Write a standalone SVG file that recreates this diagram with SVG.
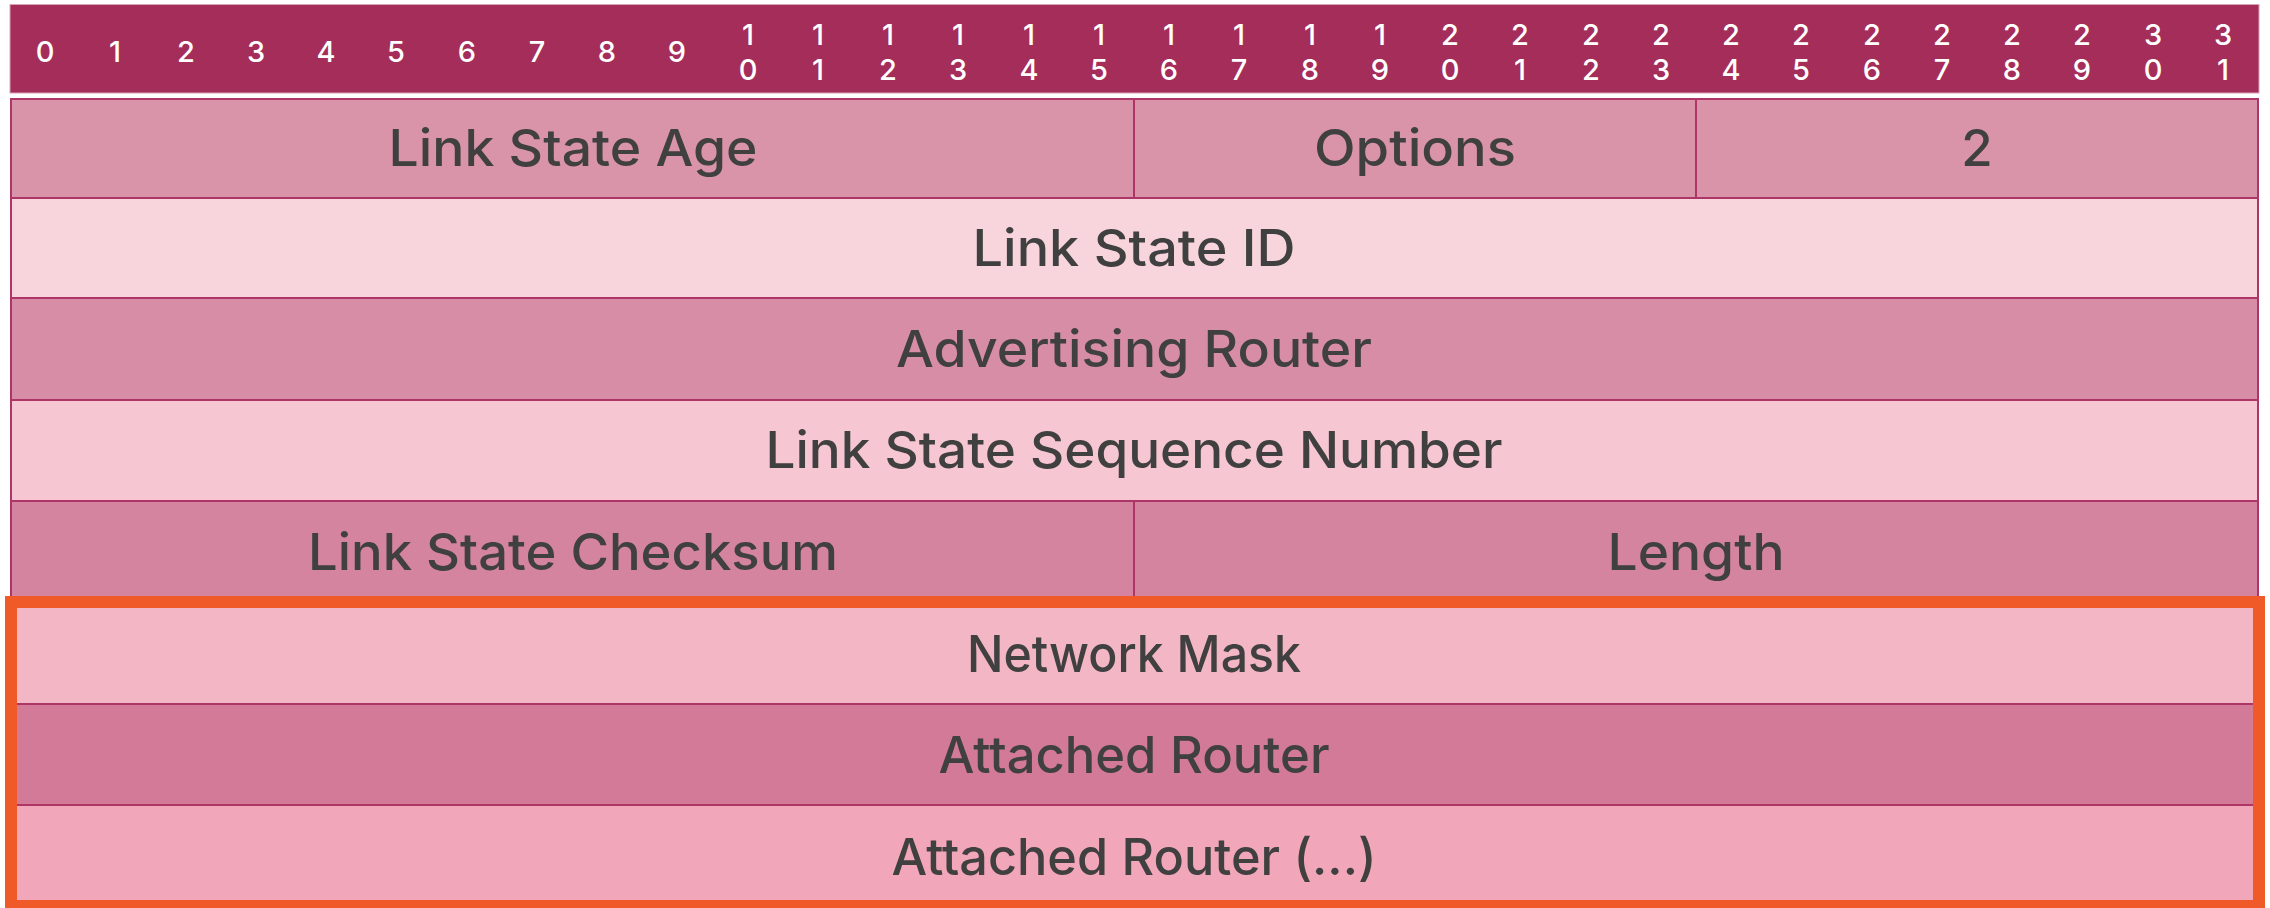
<svg xmlns="http://www.w3.org/2000/svg" width="2270" height="908" viewBox="0 0 2270 908">
  <style>
    .hdr { fill: #A52D5A; stroke: #D9A3B7; stroke-width: 1; }
    .bit { font-family: Inter, "Noto Sans", "Liberation Sans", sans-serif; font-size: 29px; font-weight: 500; fill: #FFFFFF; text-anchor: middle; }
    .cell { stroke: #AE3666; stroke-width: 2; }
    .lbl { font-family: Inter, "Noto Sans", "Liberation Sans", sans-serif; font-size: 51px; font-weight: 500; fill: #404040; text-anchor: middle; }
    .hl { fill: none; stroke: #F05A28; stroke-width: 12; }
  </style>

  <rect x="0" y="0" width="2270" height="908" fill="#FFFFFF"/>

  <!-- bit ruler: 32 columns of 70.25px starting at x=10 -->
  <g id="bit-ruler">
    <rect class="hdr" x="10" y="4.5" width="2249" height="88.5"/>
    <g class="bit">
      <text x="45" y="62">0</text>
      <text x="115" y="62">1</text>
      <text x="186" y="62">2</text>
      <text x="256" y="62">3</text>
      <text x="326" y="62">4</text>
      <text x="396" y="62">5</text>
      <text x="467" y="62">6</text>
      <text x="537" y="62">7</text>
      <text x="607" y="62">8</text>
      <text x="677" y="62">9</text>
      <text x="748" y="45">1</text><text x="748" y="80">0</text>
      <text x="818" y="45">1</text><text x="818" y="80">1</text>
      <text x="888" y="45">1</text><text x="888" y="80">2</text>
      <text x="958" y="45">1</text><text x="958" y="80">3</text>
      <text x="1029" y="45">1</text><text x="1029" y="80">4</text>
      <text x="1099" y="45">1</text><text x="1099" y="80">5</text>
      <text x="1169" y="45">1</text><text x="1169" y="80">6</text>
      <text x="1239" y="45">1</text><text x="1239" y="80">7</text>
      <text x="1310" y="45">1</text><text x="1310" y="80">8</text>
      <text x="1380" y="45">1</text><text x="1380" y="80">9</text>
      <text x="1450" y="45">2</text><text x="1450" y="80">0</text>
      <text x="1520" y="45">2</text><text x="1520" y="80">1</text>
      <text x="1591" y="45">2</text><text x="1591" y="80">2</text>
      <text x="1661" y="45">2</text><text x="1661" y="80">3</text>
      <text x="1731" y="45">2</text><text x="1731" y="80">4</text>
      <text x="1801" y="45">2</text><text x="1801" y="80">5</text>
      <text x="1872" y="45">2</text><text x="1872" y="80">6</text>
      <text x="1942" y="45">2</text><text x="1942" y="80">7</text>
      <text x="2012" y="45">2</text><text x="2012" y="80">8</text>
      <text x="2082" y="45">2</text><text x="2082" y="80">9</text>
      <text x="2153" y="45">3</text><text x="2153" y="80">0</text>
      <text x="2223" y="45">3</text><text x="2223" y="80">1</text>
    </g>
  </g>

  <!-- header fields -->
  <g id="ls-age">
    <rect class="cell" x="11" y="99" width="1123" height="99" fill="#D994AA"/>
    <text class="lbl" x="573" y="166" textLength="369" lengthAdjust="spacingAndGlyphs">Link State Age</text>
  </g>
  <g id="options">
    <rect class="cell" x="1134" y="99" width="562" height="99" fill="#D994AA"/>
    <text class="lbl" x="1415" y="166" textLength="202" lengthAdjust="spacingAndGlyphs">Options</text>
  </g>
  <g id="ls-type">
    <rect class="cell" x="1696" y="99" width="562" height="99" fill="#D994AA"/>
    <text class="lbl" x="1977" y="166">2</text>
  </g>
  <g id="ls-id">
    <rect class="cell" x="11" y="198" width="2247" height="100" fill="#F8D5DC"/>
    <text class="lbl" x="1134" y="266" textLength="323" lengthAdjust="spacingAndGlyphs">Link State ID</text>
  </g>
  <g id="adv-router">
    <rect class="cell" x="11" y="298" width="2247" height="102" fill="#D88DA6"/>
    <text class="lbl" x="1134" y="367" textLength="476" lengthAdjust="spacingAndGlyphs">Advertising Router</text>
  </g>
  <g id="ls-seq">
    <rect class="cell" x="11" y="400" width="2247" height="101" fill="#F6C6D2"/>
    <text class="lbl" x="1134" y="468" textLength="737" lengthAdjust="spacingAndGlyphs">Link State Sequence Number</text>
  </g>
  <g id="ls-checksum">
    <rect class="cell" x="11" y="501" width="1123" height="103" fill="#D4849F"/>
    <text class="lbl" x="573" y="570" textLength="530" lengthAdjust="spacingAndGlyphs">Link State Checksum</text>
  </g>
  <g id="length">
    <rect class="cell" x="1134" y="501" width="1124" height="103" fill="#D4849F"/>
    <text class="lbl" x="1696" y="570" textLength="177" lengthAdjust="spacingAndGlyphs">Length</text>
  </g>

  <!-- network LSA body -->
  <g id="network-mask">
    <rect class="cell" x="11" y="604" width="2247" height="100" fill="#F3B6C5"/>
    <text class="lbl" x="1134" y="672" textLength="334" lengthAdjust="spacingAndGlyphs">Network Mask</text>
  </g>
  <g id="attached-router">
    <rect class="cell" x="11" y="704" width="2247" height="101" fill="#D27A97"/>
    <text class="lbl" x="1134" y="773" textLength="391" lengthAdjust="spacingAndGlyphs">Attached Router</text>
  </g>
  <g id="attached-router-more">
    <rect class="cell" x="11" y="805" width="2247" height="103" fill="#F2A6B9"/>
    <text class="lbl" x="1134" y="875" textLength="485" lengthAdjust="spacingAndGlyphs">Attached Router (...)</text>
  </g>

  <!-- highlight around the network LSA body -->
  <g id="highlight">
    <rect class="hl" x="11" y="602" width="2248" height="304"/>
  </g>
</svg>
